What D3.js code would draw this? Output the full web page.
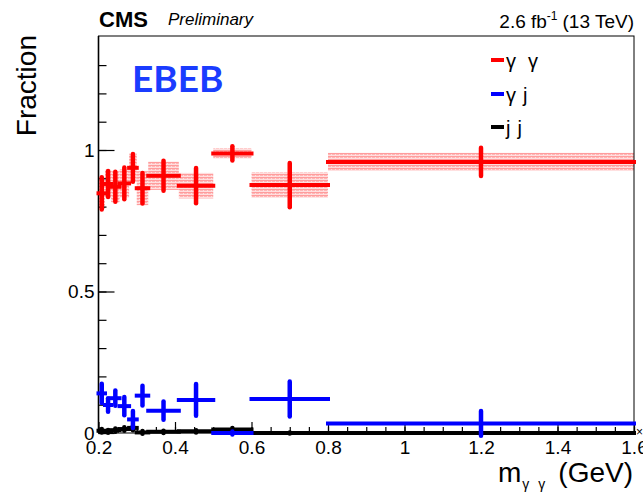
<!DOCTYPE html>
<html>
<head>
<meta charset="utf-8">
<script src="https://cdn.jsdelivr.net/npm/d3@7"></script>
<style>
  html, body { margin: 0; padding: 0; background: #fff; }
  svg { display: block; font-family: "Liberation Sans", Arial, Helvetica, sans-serif; }
</style>
</head>
<body>
<svg id="chart" width="643" height="493"></svg>
<script>
// Bin edges in m_{γγ} (GeV)
const binLow  = [0.200, 0.217, 0.233, 0.255, 0.280, 0.300, 0.330, 0.410, 0.500, 0.600, 0.800];
const binHigh = [0.217, 0.233, 0.255, 0.280, 0.300, 0.330, 0.410, 0.500, 0.600, 0.800, 1.600];

// γγ fraction, statistical and systematic uncertainties
const ggValue = [0.847, 0.880, 0.870, 0.882, 0.937, 0.865, 0.909, 0.874, 0.988, 0.876, 0.958];
const ggStat  = [0.057, 0.046, 0.053, 0.056, 0.049, 0.054, 0.053, 0.062, 0.025, 0.078, 0.050];
const ggSyst  = [0.055, 0.050, 0.055, 0.050, 0.050, 0.060, 0.050, 0.045, 0.018, 0.045, 0.032];

// γj fraction and uncertainty
const gjValue = [0.140, 0.099, 0.123, 0.095, 0.048, 0.132, 0.079, 0.117, 0.000, 0.120, 0.034];
const gjErr   = [0.034, 0.024, 0.027, 0.032, 0.030, 0.035, 0.032, 0.056, 0.005, 0.062, 0.044];

// jj fraction and uncertainty
const jjValue = [0.008, 0.006, 0.010, 0.014, 0.018, 0.002, 0.004, 0.006, 0.012, 0.000, 0.000];
const jjErr   = [0.006, 0.005, 0.006, 0.006, 0.008, 0.005, 0.004, 0.004, 0.006, 0.002, 0.001];

// Axis ticks
const xMajorTicks = [0.2, 0.4, 0.6, 0.8, 1.0, 1.2, 1.4, 1.6];
const xTickLabels = ["0.2", "0.4", "0.6", "0.8", "1", "1.2", "1.4", "1.6"];
const yMajorTicks = [0, 0.5, 1];
const yTickLabels = ["0", "0.5", "1"];

const legendLabels = [["γ", "γ"], ["γ", "j"], ["j", "j"]];
const seriesColors = ["#ff0000", "#0000ff", "#000000"];

const svg = d3.select("#chart");
const frameL = 98.5, frameR = 634, frameT = 36, frameB = 433;

const x = d3.scaleLinear().domain([0.2, 1.6]).range([frameL, frameR]);
const y = d3.scaleLinear().domain([0, (frameB - frameT) / 283]).range([frameB, frameT]);

// hatched fill for the systematic band
const defs = svg.append("defs");
const pat = defs.append("pattern").attr("id", "systFill")
  .attr("patternUnits", "userSpaceOnUse").attr("width", 4).attr("height", 3);
pat.append("rect").attr("width", 4).attr("height", 3).attr("fill", "#ffdede");
pat.append("rect").attr("width", 4).attr("height", 1).attr("fill", "#ff9c9c");
pat.append("rect").attr("y", 1).attr("width", 3).attr("height", 1).attr("fill", "#ffb6b6");

const idx = d3.range(binLow.length);

// systematic band for γγ
svg.append("g").selectAll("rect").data(idx).join("rect")
  .attr("x", i => x(binLow[i]))
  .attr("width", i => x(binHigh[i]) - x(binLow[i]))
  .attr("y", i => y(ggValue[i] + ggSyst[i]))
  .attr("height", i => y(ggValue[i] - ggSyst[i]) - y(ggValue[i] + ggSyst[i]))
  .attr("fill", "url(#systFill)");

// frame
svg.append("rect").attr("x", frameL).attr("y", frameT)
  .attr("width", frameR - frameL).attr("height", frameB - frameT)
  .attr("fill", "none").attr("stroke", "#000").attr("stroke-width", 1);
svg.append("line").attr("x1", frameL).attr("x2", frameL).attr("y1", frameT).attr("y2", frameB)
  .attr("stroke", "#000").attr("stroke-width", 1.6);

// x axis: minor ticks, then major ticks with labels
const xMinor = d3.range(0.2, 1.6001, 0.05);
svg.append("g").attr("transform", `translate(0,${frameB})`)
  .call(d3.axisBottom(x).tickValues(xMinor).tickSize(-6).tickFormat(""))
  .call(g => g.select(".domain").remove());
svg.append("g").attr("transform", `translate(0,${frameB})`)
  .call(d3.axisBottom(x).tickValues(xMajorTicks).tickSize(-11).tickPadding(8)
    .tickFormat((d, i) => xTickLabels[i]))
  .call(g => g.select(".domain").remove())
  .call(g => g.selectAll("text").attr("font-size", 19).attr("font-family", "Liberation Sans, Arial, sans-serif").attr("fill", "#000"));

// y axis
const yMinor = d3.range(0, 1.3501, 0.1);
svg.append("g").attr("transform", `translate(${frameL},0)`)
  .call(d3.axisLeft(y).tickValues(yMinor).tickSize(-8).tickFormat(""))
  .call(g => g.select(".domain").remove());
svg.append("g").attr("transform", `translate(${frameL},0)`)
  .call(d3.axisLeft(y).tickValues(yMajorTicks).tickSize(-16).tickPadding(4)
    .tickFormat((d, i) => yTickLabels[i]))
  .call(g => g.select(".domain").remove())
  .call(g => g.selectAll("text").attr("font-size", 19).attr("font-family", "Liberation Sans, Arial, sans-serif").attr("fill", "#000"));
svg.selectAll(".tick line").attr("stroke", "#000").attr("stroke-width", 1.2);

// data crosses: horizontal bar over the bin, vertical bar for the uncertainty
function drawSeries(values, errs, color) {
  const g = svg.append("g");
  g.selectAll("line.h").data(idx).join("line").attr("class", "h")
    .attr("x1", i => x(binLow[i])).attr("x2", i => x(binHigh[i]))
    .attr("y1", i => y(values[i])).attr("y2", i => y(values[i]))
    .attr("stroke", color).attr("stroke-width", 4).attr("stroke-linecap", "square");
  g.selectAll("line.v").data(idx).join("line").attr("class", "v")
    .attr("x1", i => x((binLow[i] + binHigh[i]) / 2)).attr("x2", i => x((binLow[i] + binHigh[i]) / 2))
    .attr("y1", i => y(values[i] - errs[i])).attr("y2", i => y(values[i] + errs[i]))
    .attr("stroke", color).attr("stroke-width", 4.5).attr("stroke-linecap", "round");
}
drawSeries(jjValue, jjErr, seriesColors[2]);
drawSeries(gjValue, gjErr, seriesColors[1]);
drawSeries(ggValue, ggStat, seriesColors[0]);

// axis-end marker
svg.append("text").attr("x", 636).attr("y", 436).attr("font-size", 12).text("×");

// axis titles
svg.append("text")
  .attr("transform", "translate(36,35) rotate(-90)")
  .attr("text-anchor", "end").attr("font-size", 28).text("Fraction");

const xt = svg.append("text").attr("x", 633).attr("y", 482)
  .attr("text-anchor", "end").attr("font-size", 28);
xt.append("tspan").text("m");
xt.append("tspan").attr("font-size", 14).attr("dy", 7).attr("dx", 1).text("γ");
xt.append("tspan").attr("font-size", 14).attr("dx", 9).text("γ");
xt.append("tspan").attr("dy", -7).attr("dx", 13).text("(GeV)");

// header
svg.append("text").attr("x", 99).attr("y", 27).attr("font-size", 22)
  .attr("font-weight", "bold").text("CMS");
svg.append("text").attr("x", 168).attr("y", 25).attr("font-size", 17)
  .attr("font-style", "italic").text("Preliminary");
const lumi = svg.append("text").attr("x", 634).attr("y", 28)
  .attr("text-anchor", "end").attr("font-size", 19);
lumi.append("tspan").text("2.6 fb");
lumi.append("tspan").attr("font-size", 12).attr("dy", -8).text("-1");
lumi.append("tspan").attr("dy", 8).attr("dx", 5).text("(13 TeV)");

// category label
svg.append("text").attr("x", 132).attr("y", 92)
  .attr("font-family", "Lato, sans-serif").attr("font-weight", 700)
  .attr("font-size", 37).attr("fill", "#1a3cff").text("EBEB");

// legend
const legY = [60, 94, 127];
const leg = svg.append("g");
legendLabels.forEach((lab, i) => {
  leg.append("line").attr("x1", 493).attr("x2", 502).attr("y1", legY[i]).attr("y2", legY[i])
    .attr("stroke", seriesColors[i]).attr("stroke-width", 4).attr("stroke-linecap", "square");
  const t = leg.append("text").attr("x", 506).attr("y", legY[i] + 8).attr("font-size", 20);
  t.append("tspan").text(lab[0]);
  t.append("tspan").attr("dx", lab[1] === "γ" ? 12 : 7).text(lab[1]);
});
</script>
</body>
</html>
